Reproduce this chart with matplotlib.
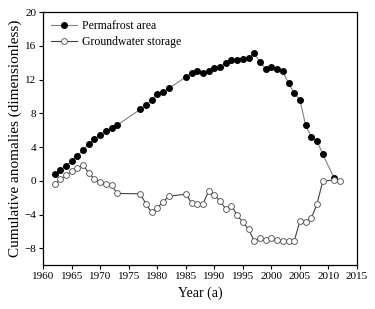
import matplotlib.pyplot as plt

plt.rcParams['font.family'] = ['Liberation Serif', 'DejaVu Serif']

# Permafrost area (filled markers)
pf_years = [1962, 1963, 1964, 1965, 1966, 1967, 1968, 1969, 1970, 1971, 1972, 1973,
            1977, 1978, 1979, 1980, 1981, 1982,
            1985, 1986, 1987, 1988, 1989, 1990, 1991, 1992, 1993, 1994, 1995, 1996,
            1997, 1998, 1999, 2000, 2001, 2002, 2003, 2004, 2005, 2006, 2007, 2008,
            2009, 2011]
pf_values = [0.8, 1.26, 1.73, 2.36, 2.95, 3.63, 4.34, 4.9, 5.45, 5.92, 6.2, 6.6,
             8.46, 9.0, 9.6, 10.24, 10.47, 10.95,
             12.29, 12.76, 13.0, 12.8, 13.0, 13.32, 13.44, 13.99, 14.27, 14.3, 14.46, 14.5,
             15.1, 14.07, 13.28, 13.44, 13.2, 12.96, 11.54, 10.39, 9.6, 6.56, 5.21, 4.7,
             3.16, 0.27]

# Groundwater storage (open markers)
gw_years = [1962, 1963, 1964, 1965, 1966, 1967, 1968, 1969, 1970, 1971, 1972, 1973,
            1977, 1978, 1979, 1980, 1981, 1982,
            1985, 1986, 1987, 1988, 1989, 1990, 1991, 1992, 1993, 1994, 1995, 1996,
            1997, 1998, 1999, 2000, 2001, 2002, 2003, 2004, 2005, 2006, 2007, 2008,
            2009, 2011, 2012]
gw_values = [-0.44, 0.15, 0.66, 1.14, 1.53, 1.85, 0.94, 0.15, -0.13, -0.44, -0.56, -1.5,
             -1.55, -2.7, -3.76, -3.17, -2.54, -1.83,
             -1.59, -2.62, -2.7, -2.75, -1.25, -1.65, -2.45, -3.29, -2.95, -4.1, -4.9, -5.75,
             -7.15, -6.82, -7.0, -6.75, -7.0, -7.14, -7.14, -7.14, -4.76, -4.85, -4.43, -2.72,
             -0.05, 0.1, 0.03]

fig = plt.figure(figsize=(3.75, 3.09), dpi=100)
ax = fig.add_axes([0.115, 0.142, 0.837, 0.819])

ax.plot(pf_years, pf_values, color="#808080", linewidth=0.8,
        marker="o", markersize=4.0, markerfacecolor="black", markeredgecolor="black",
        label="Permafrost area")
ax.plot(gw_years, gw_values, color="#404040", linewidth=0.8,
        marker="o", markersize=4.2, markerfacecolor="white", markeredgecolor="#606060",
        markeredgewidth=0.7, label="Groundwater storage")

ax.set_xlim(1960, 2015)
ax.set_ylim(-10, 20)
ax.set_xticks(range(1960, 2016, 5))
ax.set_yticks(range(-8, 21, 4))
ax.tick_params(labelsize=8, direction="out", length=3, width=0.8, pad=2)
for s in ax.spines.values():
    s.set_linewidth(0.9)

ax.set_xlabel("Year (a)", fontsize=10, labelpad=4)
ax.set_ylabel("Cumulative anomalies (dimensionless)", fontsize=11, labelpad=2)

ax.legend(loc="upper left", frameon=False, fontsize=8.5, handlelength=2.2,
          handletextpad=0.4, labelspacing=0.3, borderaxespad=0.3)

fig.savefig("out.png", dpi=100)
